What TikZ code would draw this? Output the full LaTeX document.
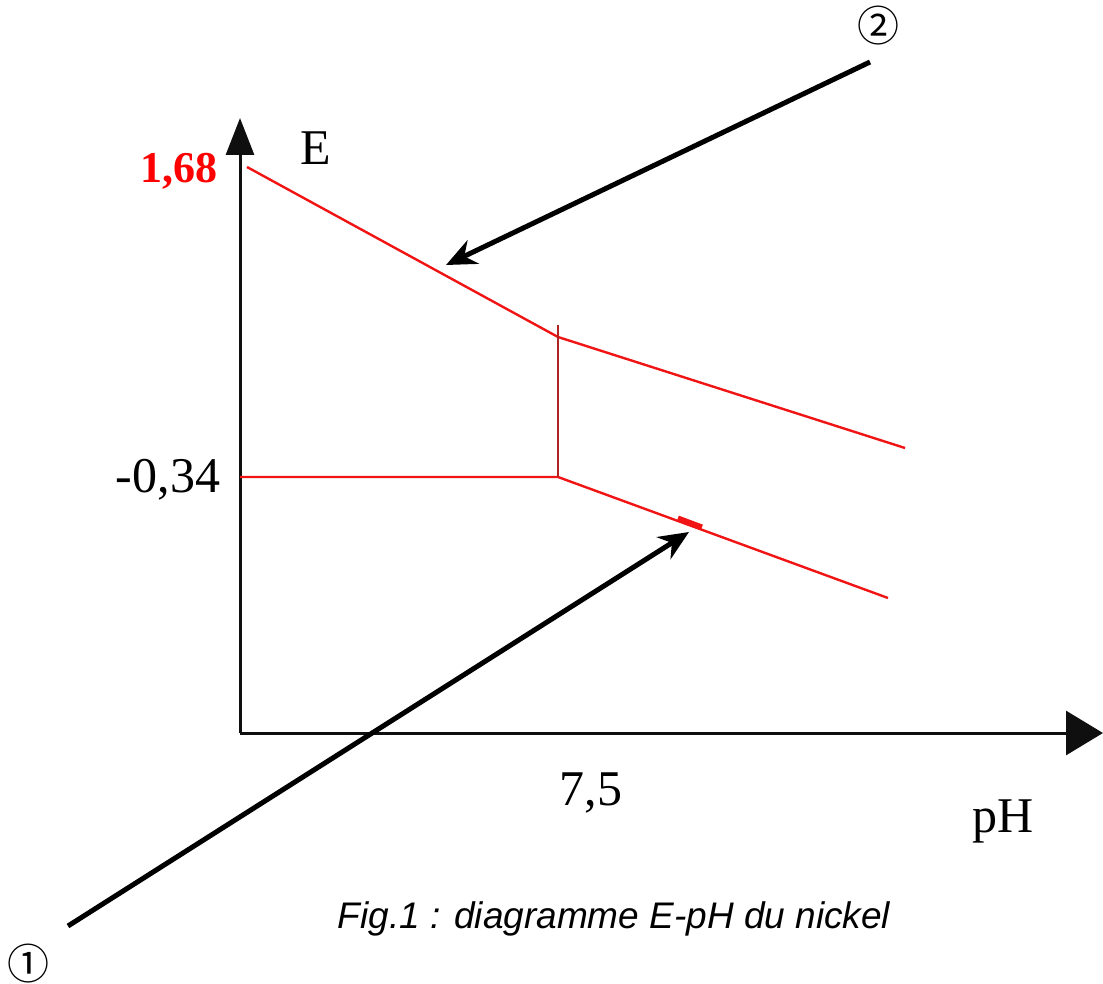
\documentclass[tikz,border=0pt]{standalone}
\usepackage{fontspec}
\setmainfont{Liberation Serif}
\newfontfamily\capfont{Liberation Sans}
\newfontfamily\symfont{Noto Sans CJK JP}
\usetikzlibrary{arrows.meta}
\definecolor{lred}{RGB}{240,20,20}
\definecolor{dred}{RGB}{175,35,35}
\definecolor{axisgray}{RGB}{15,15,15}
\tikzset{
  axisline/.style={draw=axisgray, line width=3pt},
  redline/.style={draw=lred, line width=2.4pt},
  pointer/.style={draw=black, line width=5pt, -{Stealth[length=30pt,width=26pt]}},
  lbl/.style={inner sep=0pt, anchor=base, font=\fontsize{50}{56}\selectfont},
  circnum/.style={inner sep=0pt, font=\symfont\fontsize{42}{46}\selectfont}
}
\begin{document}
\begin{tikzpicture}[x=1pt,y=-1pt]
\useasboundingbox (0,0) rectangle (1103,984);
% axes
\coordinate (O) at (240,733);
\coordinate (Ytop) at (240,118);
\coordinate (Xend) at (1103,733);
\draw[axisline, -{Triangle[length=37pt,width=28pt]}] (O) -- (Ytop);
\draw[axisline, -{Triangle[length=37pt,width=44pt]}] (O) -- (Xend);
% red boundaries
\coordinate (A) at (247,167);
\coordinate (B) at (558,337);
\coordinate (Bt) at (558,325);
\coordinate (C) at (905,448);
\coordinate (D0) at (240,477);
\coordinate (D) at (558,477);
\coordinate (F) at (888,598);
\coordinate (M1) at (678,518);
\coordinate (M2) at (702,527);
\draw[redline] (A) -- (B) -- (C);
\draw[redline] (D0) -- (D) -- (F);
\draw[draw=dred, line width=2.4pt] (Bt) -- (D);
\draw[draw=lred, line width=5pt] (M1) -- (M2);
% labels
\node[lbl, text=red, font=\bfseries\fontsize{44}{50}\selectfont] (l168) at (179,183) {1,68};
\node[lbl] (lE) at (316,165) {E};
\node[lbl] (l034) at (168,492) {-0,34};
\node[lbl] (l75) at (591,805) {7,5};
\node[lbl] (lpH) at (1003,832) {pH};
\node[inner sep=0pt, anchor=base, font=\capfont\itshape\fontsize{37}{42}\selectfont] (cap) at (614,928) {Fig.1 : diagramme E-pH du nickel};
% pointers
\node[circnum] (n1) at (28,964) {①};
\node[circnum] (n2) at (878,26) {②};
\coordinate (P1s) at (68,926);
\coordinate (P1e) at (689,532);
\coordinate (P2s) at (870,62);
\coordinate (P2e) at (446,265);
\draw[pointer] (P1s) -- (P1e);
\draw[pointer] (P2s) -- (P2e);
\end{tikzpicture}
\end{document}
